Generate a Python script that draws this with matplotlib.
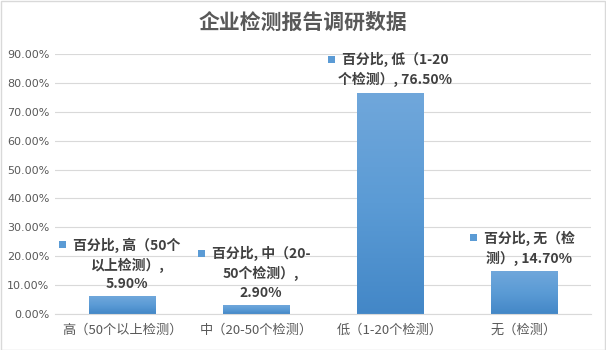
import matplotlib
matplotlib.use("Agg")
import matplotlib.pyplot as plt
import numpy as np
from matplotlib.colors import LinearSegmentedColormap
from matplotlib.patches import Rectangle
from matplotlib.text import Text

plt.rcParams['font.family'] = ['Noto Sans CJK SC', 'DejaVu Sans']

# ---- data ----
title = "企业检测报告调研数据"
series_name = "百分比"
categories = ["高（50个以上检测）", "中（20-50个检测）", "低（1-20个检测）", "无（检测）"]
percentages = [5.90, 2.90, 76.50, 14.70]
# category names as wrapped inside the data labels
label_names = ["高（50个\n以上检测）", "中（20-\n50个检测）", "低（1-20\n个检测）", "无（检\n测）"]
label_seps = [",\n", ",\n", ", ", ", "]
y_ticks = [0, 10, 20, 30, 40, 50, 60, 70, 80, 90]

# ---- figure ----
W, H = 606, 350
DPI = 100
fig = plt.figure(figsize=(W / DPI, H / DPI), dpi=DPI)
fig.patch.set_facecolor("white")
ax = fig.add_axes([55 / W, 36 / H, 536 / W, 260 / H])

text_dark = "#404040"
text_gray = "#595959"
grid_col = "#D9D9D9"

grad = LinearSegmentedColormap.from_list("bar", ["#4387C7", "#5B9BD5", "#70A7DB"])
gradient = np.linspace(0, 1, 256).reshape(-1, 1)

x = np.arange(len(categories))
bars = ax.bar(x, percentages, width=0.5, color="none", edgecolor="none", zorder=2)
for b in bars:
    x0, w, h = b.get_x(), b.get_width(), b.get_height()
    ax.imshow(gradient, cmap=grad, origin="lower", aspect="auto",
              extent=(x0, x0 + w, 0, h), zorder=2, interpolation="bilinear")

ax.set_xlim(-0.5, len(categories) - 0.5)
ax.set_ylim(0, 90)
ax.set_yticks(y_ticks)
ax.set_yticklabels([f"{t:.2f}%" for t in y_ticks])
ax.set_xticks(x)
ax.set_xticklabels(categories)
ax.tick_params(axis="x", length=0, pad=7, labelsize=9.5, labelcolor=text_gray)
ax.tick_params(axis="y", length=0, pad=4, labelsize=8, labelcolor=text_gray)
for lab in ax.get_yticklabels():
    lab.set_family(['DejaVu Sans'])

ax.grid(axis="y", color=grid_col, linewidth=0.8, zorder=0)
ax.set_axisbelow(True)
for s in ["top", "right", "left"]:
    ax.spines[s].set_visible(False)
ax.spines["bottom"].set_color(grid_col)
ax.spines["bottom"].set_linewidth(0.8)
ax.set_facecolor("none")

fig.text(0.5, 1 - 22 / H, title, ha="center", va="center", fontsize=15,
         fontweight="bold", color=text_gray)

# ---- data labels with legend keys ----
label_props = dict(fontsize=10, fontweight="bold", color=text_dark)
annots = []
for i, v in enumerate(percentages):
    txt = f"{series_name}, {label_names[i]}{label_seps[i]}{v:.2f}%"
    a = ax.annotate(txt, xy=(x[i], v), xytext=(5, 6), textcoords="offset pixels",
                    ha="center", va="bottom", multialignment="center",
                    linespacing=1.4, zorder=4, **label_props)
    annots.append(a)

fig.canvas.draw()
renderer = fig.canvas.get_renderer()
sq = 7
for a in annots:
    bb = a.get_window_extent(renderer)
    first = a.get_text().split("\n")[0]
    t = Text(0, 0, first, figure=fig, **label_props)
    fb = t.get_window_extent(renderer)
    cx = (bb.x0 + bb.x1) / 2
    left = cx - fb.width / 2
    cy = bb.y1 - fb.height / 2
    fig.patches.append(Rectangle((left - 7 - sq, cy - sq / 2), sq, sq,
                                 transform=None, facecolor="#5B9BD5",
                                 edgecolor="none", zorder=5))

# chart border
fig.patches.append(Rectangle((0.5 / W, 0.5 / H), 1 - 1.5 / W, 1 - 1.5 / H,
                             transform=fig.transFigure, fill=False,
                             edgecolor=grid_col, linewidth=1))

fig.savefig("out.png", dpi=DPI)
